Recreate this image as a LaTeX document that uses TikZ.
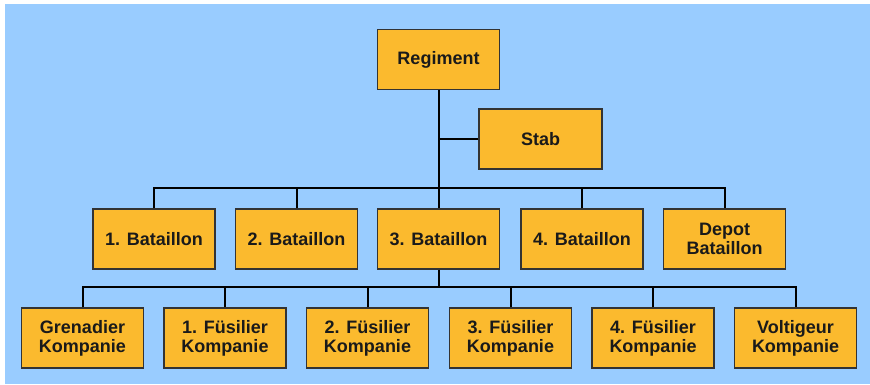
\documentclass[tikz,border=0pt]{standalone}
\usepackage{fontspec}
\setmainfont{Liberation Sans}
\definecolor{bgblue}{HTML}{99CCFF}
\definecolor{boxfill}{HTML}{FBBA2E}
\definecolor{boxline}{HTML}{333333}
\definecolor{txt}{HTML}{1A1A1A}
\begin{document}
\begin{tikzpicture}[x=1pt,y=-1pt,
  unit/.style={draw=boxline,line width=1.3pt,fill=boxfill,minimum width=122pt,minimum height=60pt,inner sep=0pt,align=center,text=txt,font=\fontsize{18}{19}\selectfont\bfseries},
  link/.style={draw=black,line width=2pt}]
\useasboundingbox (0,0) rectangle (870,384);
\fill[white] (0,0) rectangle (870,384);
\fill[bgblue] (5,4) rectangle (870,384);
% nodes
\node[unit] (reg) at (438.5,59.5) {Regiment};
\node[unit,minimum width=123pt] (stab) at (540.5,139) {Stab};
\node[unit] (b1) at (154,239) {1. Bataillon};
\node[unit] (b2) at (296.5,239) {2. Bataillon};
\node[unit] (b3) at (438.5,239) {3. Bataillon};
\node[unit] (b4) at (582,239) {4. Bataillon};
\node[unit] (b5) at (724.5,239) {Depot\\Bataillon};
\node[unit] (c1) at (82.5,338) {Grenadier\\Kompanie};
\node[unit] (c2) at (225,338) {1. Füsilier\\Kompanie};
\node[unit] (c3) at (367.5,338) {2. Füsilier\\Kompanie};
\node[unit] (c4) at (510.5,338) {3. Füsilier\\Kompanie};
\node[unit] (c5) at (653,338) {4. Füsilier\\Kompanie};
\node[unit] (c6) at (795.5,338) {Voltigeur\\Kompanie};
% connectors
\coordinate (bbus) at (438.5,188);
\coordinate (cbus) at (438.5,287);
\draw[link] (reg.south) -- (b3.north);
\draw[link] (stab.west) -- (stab.west -| reg.south);
\draw[link] (b1.north) |- (bbus) -| (b5.north);
\draw[link] (b2.north) -- (b2.north |- bbus);
\draw[link] (b4.north) -- (b4.north |- bbus);
\draw[link] (b3.south) -- (cbus);
\draw[link] (c1.north) |- (cbus) -| (c6.north);
\draw[link] (c2.north) -- (c2.north |- cbus);
\draw[link] (c3.north) -- (c3.north |- cbus);
\draw[link] (c4.north) -- (c4.north |- cbus);
\draw[link] (c5.north) -- (c5.north |- cbus);
\end{tikzpicture}
\end{document}
